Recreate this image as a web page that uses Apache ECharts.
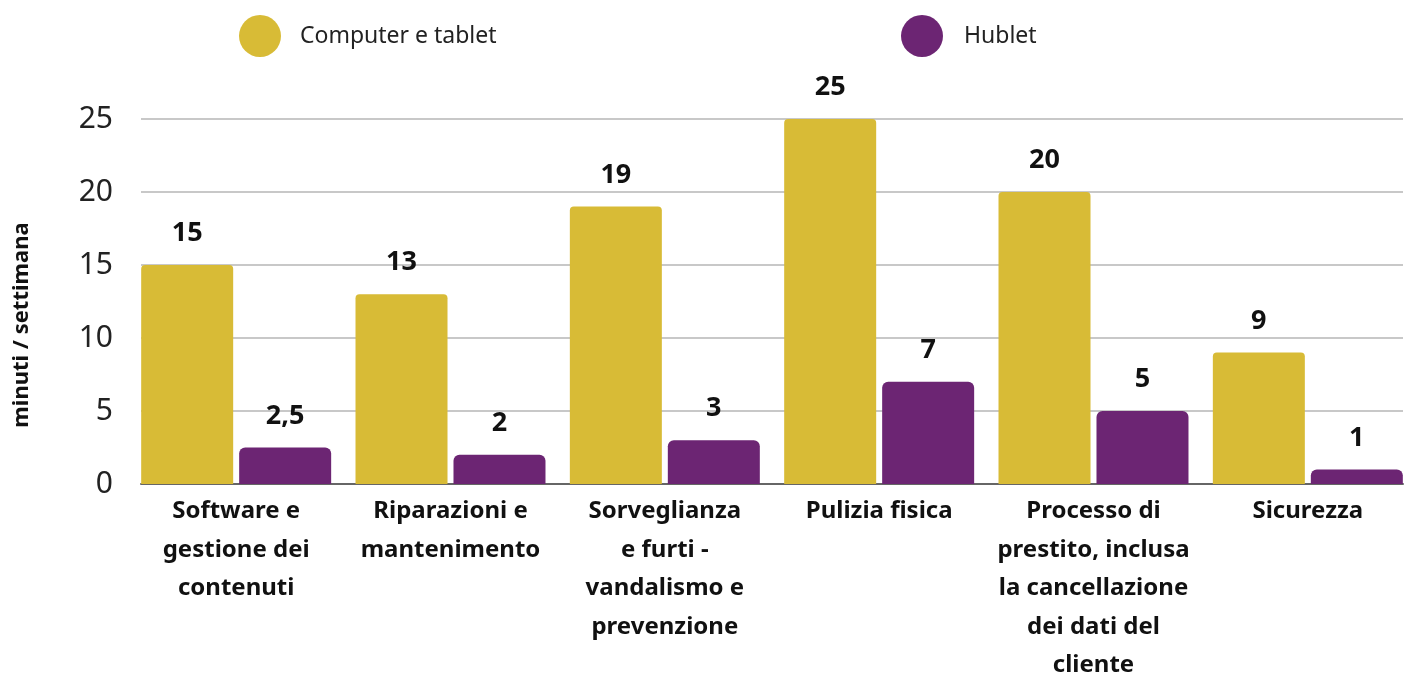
<!DOCTYPE html>
<html>
<head>
<meta charset="utf-8">
<script src="https://cdn.jsdelivr.net/npm/echarts@6/dist/echarts.min.js"></script>
<style>
  html, body { margin: 0; padding: 0; background: #fff; }
  #main { width: 1408px; height: 675px; }
</style>
</head>
<body>
<div id="main"></div>
<script>
var categories = [
    'Software e\ngestione dei\ncontenuti',
    'Riparazioni e\nmantenimento',
    'Sorveglianza\ne furti -\nvandalismo e\nprevenzione',
    'Pulizia fisica',
    'Processo di\nprestito, inclusa\nla cancellazione\ndei dati del\ncliente',
    'Sicurezza'
];
var computerTablet = [15, 13, 19, 25, 20, 9];
var hublet = [2.5, 2, 3, 7, 5, 1];
var seriesNames = ['Computer e tablet', 'Hublet'];
var yTicks = { min: 0, max: 25, interval: 5 };

var FONT = '"Noto Sans"';
var myChart = echarts.init(document.getElementById('main'));

function labelFmt(p) {
    return String(p.value).replace('.', ',');
}

var option = {
    backgroundColor: '#fff',
    animation: false,
    legend: [{
        data: [seriesNames[0]],
        left: 234, top: 10,
        icon: 'circle', itemWidth: 42, itemHeight: 42,
        textStyle: { fontFamily: FONT, fontSize: 23, color: '#222', padding: [0, 0, 0, 14] }
    }, {
        data: [seriesNames[1]],
        left: 896, top: 10,
        icon: 'circle', itemWidth: 42, itemHeight: 42,
        textStyle: { fontFamily: FONT, fontSize: 23, color: '#222', padding: [0, 0, 0, 16] }
    }],
    grid: [
        // bars
        { left: 129, right: -7, top: 119, bottom: 191, outerBoundsMode: 'none' },
        // gridlines, y labels, base line
        { left: 141, right: 5, top: 119, bottom: 191, outerBoundsMode: 'none' }
    ],
    xAxis: [{
        gridIndex: 0,
        type: 'category',
        data: categories,
        axisLine: { show: false },
        axisTick: { show: false },
        axisLabel: {
            margin: 8, interval: 0,
            fontFamily: FONT, fontSize: 24, fontWeight: 'bold', color: '#111', lineHeight: 38.5
        }
    }, {
        gridIndex: 1,
        type: 'value', min: 0, max: 1,
        axisLine: { show: true, lineStyle: { color: '#666', width: 2 } },
        axisTick: { show: false },
        axisLabel: { show: false },
        splitLine: { show: false }
    }],
    yAxis: [{
        gridIndex: 0,
        type: 'value', min: yTicks.min, max: yTicks.max, interval: yTicks.interval,
        show: false,
        splitLine: { show: false }
    }, {
        gridIndex: 1,
        type: 'value', min: yTicks.min, max: yTicks.max, interval: yTicks.interval,
        axisLine: { show: false },
        axisTick: { show: false },
        axisLabel: { margin: 28, fontFamily: FONT, fontSize: 30, color: '#222' },
        splitLine: { lineStyle: { color: '#c8c8c8', width: 2 } }
    }],
    graphic: [{
        type: 'text',
        x: 22, y: 325,
        rotation: Math.PI / 2,
        style: {
            text: 'minuti / settimana',
            fontFamily: FONT, fontSize: 22, fontWeight: 'bold', fill: '#111',
            align: 'center', verticalAlign: 'middle'
        }
    }],
    series: [{
        name: seriesNames[0],
        type: 'bar',
        xAxisIndex: 0, yAxisIndex: 0,
        data: computerTablet,
        barWidth: 92,
        barGap: '6.5%',
        itemStyle: { color: '#d8bb36', borderRadius: [4, 4, 0, 0] },
        label: {
            show: true, position: 'top', distance: 18, formatter: labelFmt,
            fontFamily: FONT, fontSize: 27, fontWeight: 'bold', color: '#111'
        },
        z: 3
    }, {
        name: seriesNames[1],
        type: 'bar',
        xAxisIndex: 0, yAxisIndex: 0,
        data: hublet,
        barWidth: 92,
        itemStyle: { color: '#6c2573', borderRadius: [6, 6, 0, 0] },
        label: {
            show: true, position: 'top', distance: 18, formatter: labelFmt,
            fontFamily: FONT, fontSize: 27, fontWeight: 'bold', color: '#111'
        },
        z: 3
    }]
};
myChart.setOption(option);
</script>
</body>
</html>
